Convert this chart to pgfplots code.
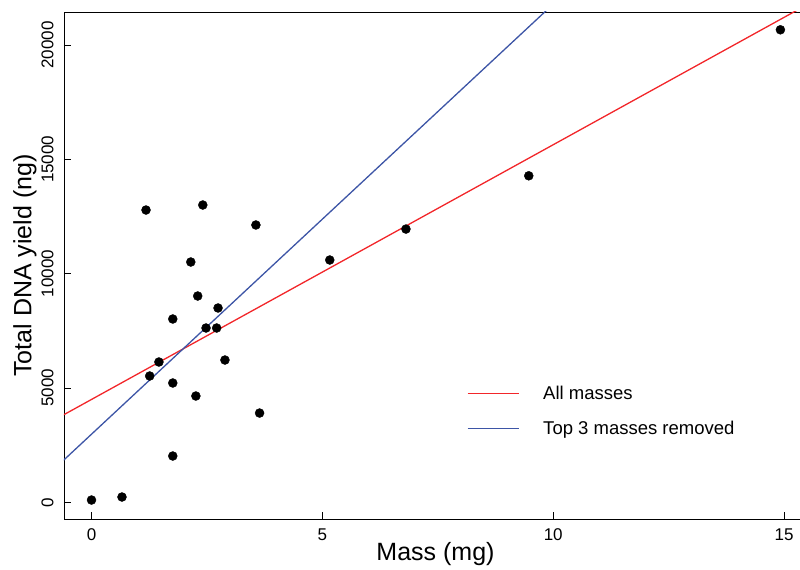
\documentclass[border=0pt]{standalone}
\usepackage{fontspec}
\setmainfont{Liberation Sans}
\usepackage{pgfplots}
\pgfplotsset{compat=1.18}
\definecolor{redline}{HTML}{F2262A}
\definecolor{blueline}{HTML}{3D55A6}

\begin{document}
\begin{tikzpicture}
\begin{axis}[
    name=ax, at={(0,0)}, anchor=south west,
    scale only axis,
    width=743pt, height=507pt,
    xmin=-0.596, xmax=15.496,
    ymin=-730, ymax=21443,
    axis line style={line width=0.9pt},
    tick align=inside, tick pos=left,
    major tick length=7.5pt,
    tick style={line width=0.9pt, black},
    xtick={0,5,10,15},
    ytick={0,5000,10000,15000,20000},
    scaled ticks=false,
    /pgf/number format/assume math mode=true,
    /pgf/number format/1000 sep={},
    tick label style={font=\fontsize{17}{20}\selectfont},
    xticklabel style={yshift=-6pt},
    yticklabel style={xshift=-7pt, rotate=90, anchor=south},
    xlabel={Mass (mg)},
    ylabel={Total DNA yield (ng)},
    label style={font=\fontsize{25}{29}\selectfont},
    xlabel style={at={(axis description cs:0.5,0)}, anchor=center, yshift=-35pt},
    ylabel style={at={(axis description cs:0,0.5)}, anchor=center, yshift=39pt},
    legend image code/.code={\draw[#1, line width=1.3pt] (0pt,0pt) -- (51pt,0pt);},
    legend style={draw=none, fill=none, at={(0.538,0.266)}, anchor=north west,
        font=\fontsize{18.5}{22}\selectfont, nodes={inner sep=0pt},
        column sep=24pt, row sep=20pt},
    legend cell align=left,
]
\addplot[only marks, mark=*, mark size=4.5pt, black, forget plot] coordinates {
(0.00,100) (0.66,232) (1.18,12783) (1.26,5524) (1.46,6136)
(1.76,8017) (1.76,5218) (1.76,2025) (2.15,10509) (2.30,9022)
(2.26,4649) (2.41,13002) (2.48,7623) (2.74,8498) (2.71,7623)
(2.89,6223) (3.56,12128) (3.64,3904) (5.16,10597) (6.81,11950)
(9.47,14280) (14.92,20665)
};
\addplot[redline, line width=1.3pt] coordinates {(-1,3385) (16,22323)};
\addplot[blueline, line width=1.3pt] coordinates {(-1,1098) (16,33075)};
\legend{All masses, Top 3 masses removed}
\end{axis}
\pgfresetboundingbox
\useasboundingbox ([shift={(-64pt,-50pt)}]ax.south west) rectangle ([shift={(736pt,12pt)}]ax.north west);
\end{tikzpicture}
\end{document}
